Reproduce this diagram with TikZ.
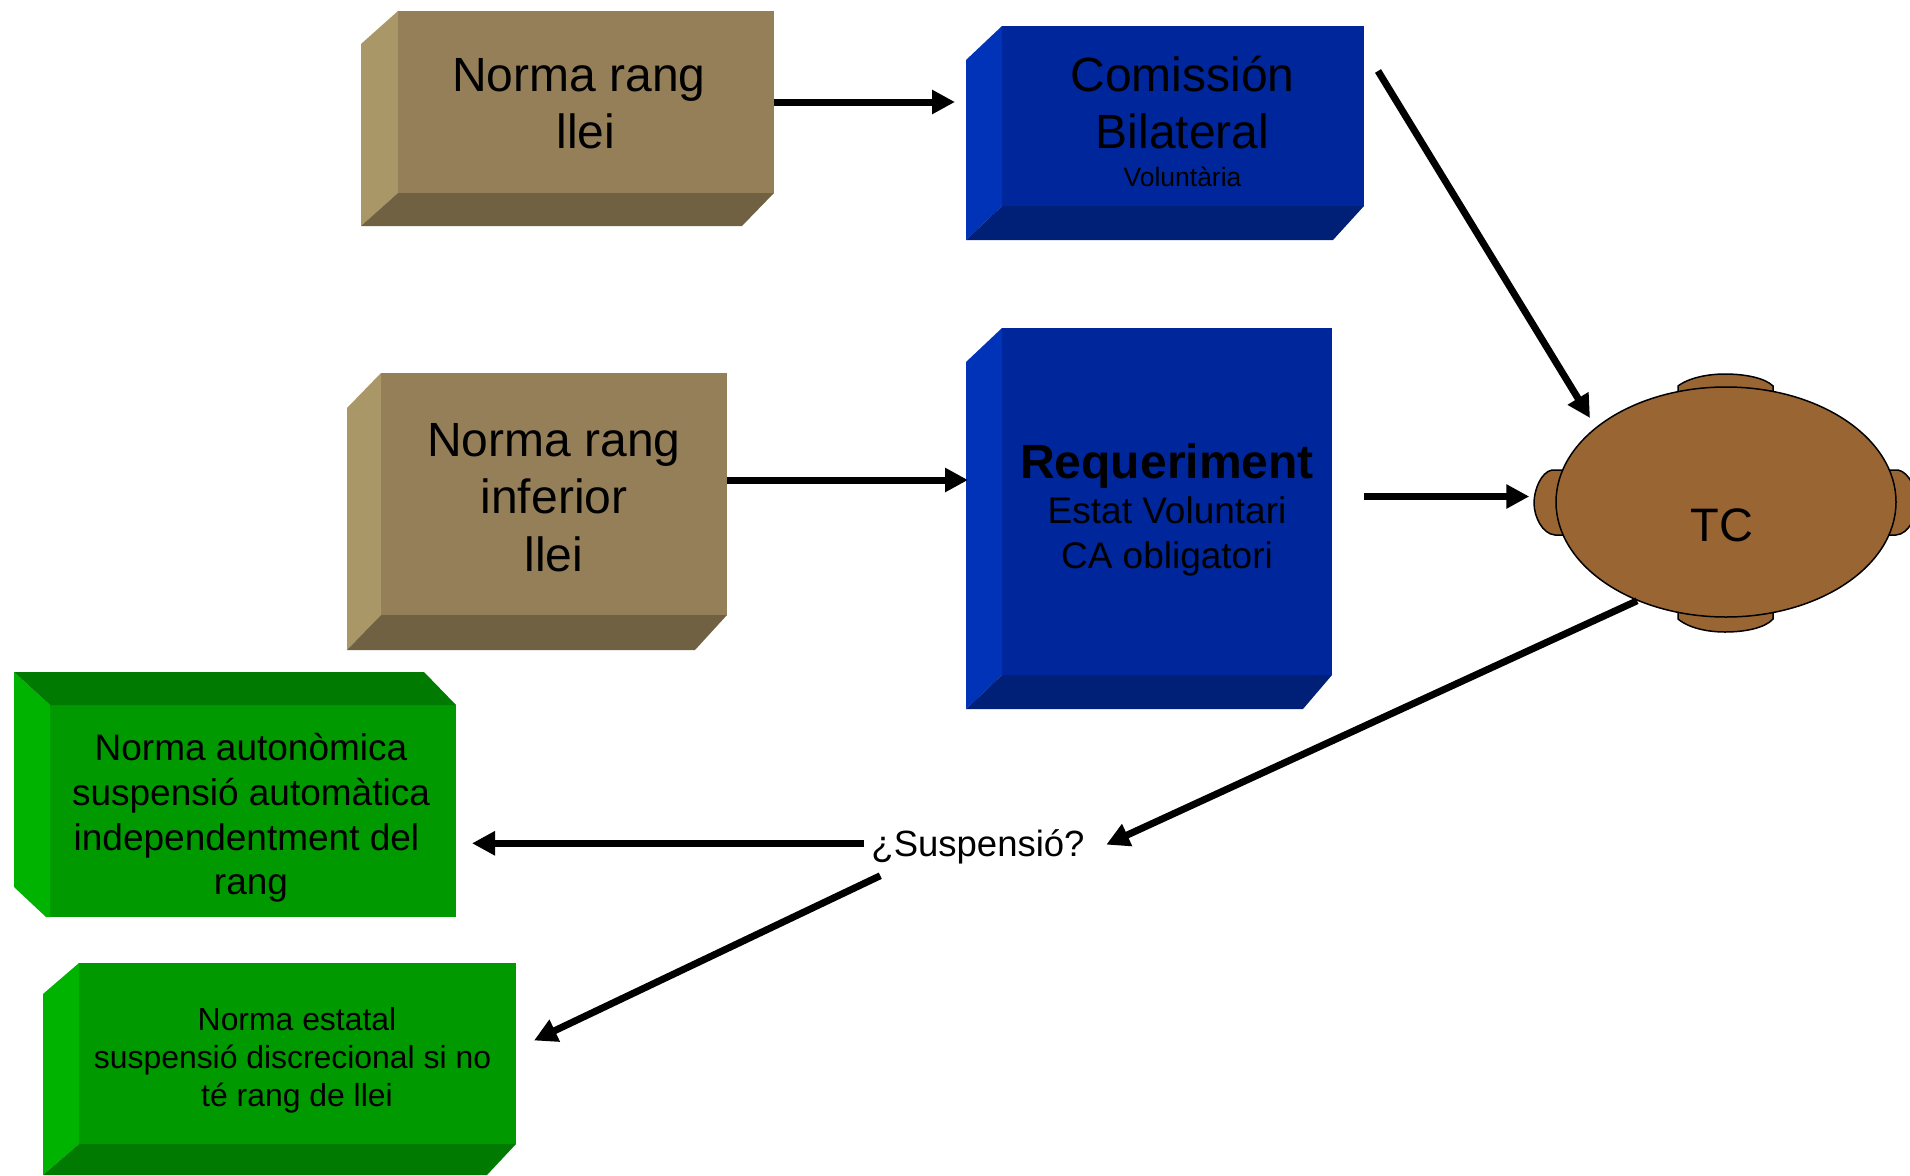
\documentclass[tikz,border=0pt]{standalone}
\usepackage{fontspec}
\setmainfont{Liberation Sans}
\usetikzlibrary{arrows.meta, shapes.geometric}

\definecolor{tanface}{HTML}{947F58}
\definecolor{tanside}{HTML}{AA9768}
\definecolor{tandark}{HTML}{706142}
\definecolor{blueface}{HTML}{00269B}
\definecolor{blueside}{HTML}{0033B8}
\definecolor{bluedark}{HTML}{001F77}
\definecolor{greenface}{HTML}{009900}
\definecolor{greenside}{HTML}{00B300}
\definecolor{greendark}{HTML}{007A00}
\definecolor{tcbrown}{HTML}{996633}

\tikzset{
	face/.style={rectangle, inner sep=0pt, outer sep=0pt},
	txt/.style={align=center, inner sep=0pt, text=black},
	flow/.style={line width=7pt, -{Triangle[length=23pt,width=23pt]}},
	seat/.style={draw=black, line width=1.5pt, fill=tcbrown}
}

% left and lower faces of a box: node, depth x, depth y, depth x on the right, side colour, lower colour
\newcommand{\bevelbox}[6]{
	\fill[#5] (#1.north west) -- ++(-#2,#3) -- ([shift={(-#2,#3)}]#1.south west) -- (#1.south west) -- cycle;
	\fill[#6] (#1.south west) -- ([shift={(-#2,#3)}]#1.south west) -- ([shift={(-#4,#3)}]#1.south east) -- (#1.south east) -- cycle;
}

\begin{document}
\begin{tikzpicture}
	[x=1pt, y=-1pt]
	\useasboundingbox (0,0) rectangle (1910,1175);

	% boxes
	\node[face, fill=tanface, minimum width=376pt, minimum height=182pt] (lei) at (586,102) {};
	\bevelbox{lei}{37}{33}{32}{tanside}{tandark}
	\node[face, fill=tanface, minimum width=346pt, minimum height=242pt] (inferior) at (554,494) {};
	\bevelbox{inferior}{34}{35}{32}{tanside}{tandark}
	\node[face, fill=blueface, minimum width=362pt, minimum height=180pt] (comissio) at (1183,116) {};
	\bevelbox{comissio}{36}{34}{31}{blueside}{bluedark}
	\node[face, fill=blueface, minimum width=330pt, minimum height=347pt] (requeriment) at (1167,501.5) {};
	\bevelbox{requeriment}{36}{34}{29}{blueside}{bluedark}
	\node[face, fill=greenface, minimum width=437pt, minimum height=181pt] (verd2) at (297.5,1053.5) {};
	\bevelbox{verd2}{36}{31}{29}{greenside}{greendark}

	% this one is lit from below
	\node[face, fill=greenface, minimum width=406pt, minimum height=212pt] (verd1) at (253,811) {};
	\fill[greenside] (14,672) -- (verd1.north west) -- (verd1.south west) -- (46,917) -- (14,887) -- cycle;
	\fill[greendark] (14,672) -- (424,672) -- (verd1.north east) -- (verd1.north west) -- cycle;

	% table and seats
	\draw[seat] (1678,395) -- (1678,386) .. controls (1690,377) and (1710,374) .. (1725,374) .. controls (1745,374) and (1765,378) .. (1773,386) -- (1773,395);
	\draw[seat] (1678,610) -- (1678,619) .. controls (1690,629) and (1710,632) .. (1725,632) .. controls (1745,632) and (1765,628) .. (1773,619) -- (1773,610);
	\draw[seat] (1565,470) -- (1552,470) .. controls (1541,472) and (1534,490) .. (1534,503) .. controls (1534,516) and (1542,534) .. (1555,535) -- (1565,535);
	\draw[seat] (1887,470) -- (1898,470) .. controls (1909,472) and (1917,490) .. (1917,503) .. controls (1917,516) and (1909,534) .. (1896,535) -- (1887,535);
	\node[ellipse, draw=black, line width=1.5pt, fill=tcbrown, minimum width=340pt, minimum height=230pt, inner sep=0pt] (tc) at (1726,502) {};

	% texts
	\node[txt, font=\fontsize{48}{57}\selectfont] (leitext) at (579,104) {Norma rang\\\hspace*{14pt}llei};
	\node[txt, font=\fontsize{48}{57.5}\selectfont] (inferiortext) at (554,497.5) {Norma rang\\inferior\\llei};
	\node[txt, font=\fontsize{48}{57}\selectfont] (comissiotext) at (1182.5,121) {Comissión\\Bilateral\\[-19pt]{\fontsize{26.5}{32}\selectfont Voluntària}};
	\node[txt, font=\fontsize{37}{45}\selectfont] (requerimenttext) at (1167,509.5) {{\fontsize{48}{60.5}\selectfont\bfseries Requeriment}\\Estat Voluntari\\CA obligatori};
	\node[txt, font=\fontsize{37}{44.7}\selectfont] (verd1text) at (251,818) {Norma autonòmica\\suspensió automàtica\\independentment del\kern9pt\\rang};
	\node[txt, font=\fontsize{31.9}{38}\selectfont] (verd2text) at (297,1060) {Norma estatal\\suspensió discrecional si no\kern9pt\\té rang de llei};
	\node[txt, font=\fontsize{47}{57}\selectfont] (tctext) at (1722,525) {TC};
	\node[txt, inner sep=7pt, font=\fontsize{36.5}{44}\selectfont] (suspensio) at (978,847.3) {¿Suspensió?};

	% connectors
	\draw[flow, shorten >=47pt] (lei.east) -- (lei.east -| comissio.west);
	\draw[flow, shorten >=34pt] ([shift={(0,-14)}]inferior.east) -- ([shift={(0,-14)}]inferior.east -| requeriment.west);
	\draw[flow] ([shift={(14,45)}]comissio.north east) -- ([shift={(-136,-84)}]tc.center);
	\draw[flow, shorten <=32pt, shorten >=26pt] ([shift={(0,-5)}]requeriment.east) -- ([shift={(0,-5)}]requeriment.east -| tc.west);
	\draw[flow, shorten >=16pt] (tc.228) -- ([shift={(0,4)}]suspensio.east);
	\draw[flow, shorten >=16pt] ([shift={(0,-4)}]suspensio.west) -- ([shift={(0,-4)}]suspensio.west -| verd1.east);
	\draw[flow] ([shift={(16,4)}]suspensio.south west) -- ([shift={(18,-13)}]verd2.east);
\end{tikzpicture}
\end{document}
